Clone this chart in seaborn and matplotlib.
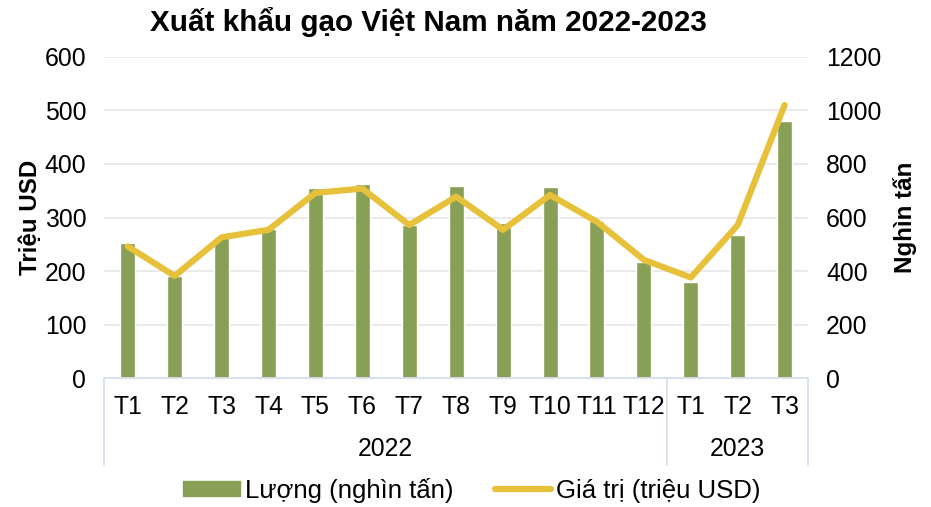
import seaborn as sns
import matplotlib.pyplot as plt
from matplotlib.patches import Patch
from matplotlib.lines import Line2D
import pandas as pd

# data
months = ["T1", "T2", "T3", "T4", "T5", "T6", "T7", "T8", "T9", "T10", "T11", "T12", "T1", "T2", "T3"]
years = ["2022"] * 12 + ["2023"] * 3
luong = [504, 382, 529, 556, 709, 724, 572, 718, 581, 714, 587, 435, 358, 535, 962]   # nghìn tấn
gia_tri = [246, 191, 263, 277, 346, 354, 286, 339, 277, 342, 292, 221, 188, 286, 510]  # triệu USD

df = pd.DataFrame({"pos": range(len(months)), "month": months, "year": years,
                   "luong": luong, "gia_tri": gia_tri})

GREEN = "#87A055"
YELLOW = "#E8C13B"
SEP = "#D6E0EE"

sns.set_style("white")
plt.rcParams["font.family"] = ["Liberation Sans", "DejaVu Sans"]
for k in ["text.color", "axes.labelcolor", "xtick.color", "ytick.color"]:
    plt.rcParams[k] = "black"

fig, ax = plt.subplots(figsize=(9.31, 5.07), dpi=100)
fig.subplots_adjust(left=0.112, right=0.868, bottom=0.254, top=0.888)
ax2 = ax.twinx()

# bars on right axis (nghìn tấn)
sns.barplot(data=df, x="pos", y="luong", ax=ax2, color=GREEN, width=0.32,
            saturation=1, order=list(range(len(months))))
# line on left axis (triệu USD)
sns.lineplot(data=df, x="pos", y="gia_tri", ax=ax, color=YELLOW, linewidth=4.5)

ax.set_zorder(ax2.get_zorder() + 1)
ax.patch.set_visible(False)

ax.set_ylim(0, 600)
ax.set_yticks(range(0, 601, 100))
ax2.set_ylim(0, 1200)
ax2.set_yticks(range(0, 1201, 200))
ax2.grid(axis="y", color="#E6E6E6", linewidth=1.2)
ax2.set_axisbelow(True)
ax.set_xlim(-0.5, len(months) - 0.5)

for a in (ax, ax2):
    for s in a.spines.values():
        s.set_visible(False)
    a.tick_params(axis="y", length=0, labelsize=17.8, pad=13)
ax.spines["bottom"].set_visible(True)
ax.spines["bottom"].set_color(SEP)
ax.spines["bottom"].set_linewidth(1.3)

ax.set_xticks(range(len(months)))
ax.set_xticklabels(months, fontsize=17.8)
ax.tick_params(axis="x", length=0, pad=12)
ax2.set_xlabel("")
ax.set_xlabel("")

ax.set_ylabel("Triệu USD", fontsize=17.4, fontweight="bold", labelpad=2)
ax2.set_ylabel("Nghìn tấn", fontsize=17.4, fontweight="bold", rotation=90, labelpad=8)

# year group labels and separators
trans = ax.get_xaxis_transform()
for yr in ["2022", "2023"]:
    idx = df.index[df["year"] == yr]
    ax.text((idx.min() + idx.max()) / 2, -0.22, yr, transform=trans, ha="center",
            va="center", fontsize=17.8)
for xb in [-0.5, 11.5, len(months) - 0.5]:
    ax.plot([xb, xb], [0, -0.27], transform=trans, color=SEP, linewidth=1.3, clip_on=False)

ax.set_title("Xuất khẩu gạo Việt Nam năm 2022-2023", fontsize=21.3, fontweight="bold",
             x=0.46, y=1.055)

handles = [Patch(color=GREEN), Line2D([0], [0], color=YELLOW, linewidth=4.5)]
fig.legend(handles, ["Lượng (nghìn tấn)", "Giá trị (triệu USD)"], loc="center",
           bbox_to_anchor=(0.507, 0.033), ncol=2, frameon=False, fontsize=18.5,
           handlelength=2.2, handleheight=0.55, columnspacing=1.6, handletextpad=0.2)

fig.savefig("out.png", dpi=100)
